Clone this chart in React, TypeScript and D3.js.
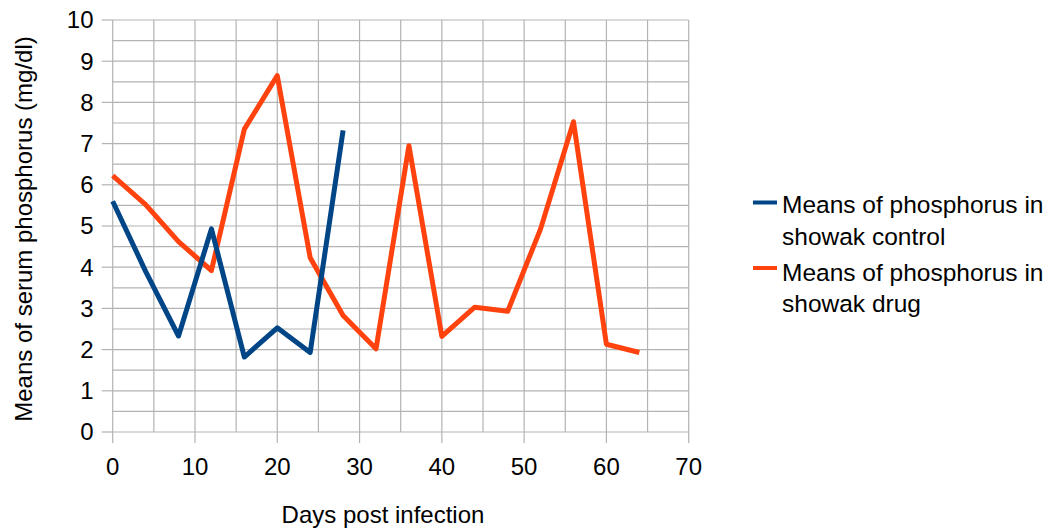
import React from "react";
import * as d3 from "d3";

const controlDays = [0, 4, 8, 12, 16, 20, 24, 28];
const controlValues = [5.6, 3.9, 2.33, 4.93, 1.82, 2.53, 1.93, 7.32];
const drugDays = [0, 4, 8, 12, 16, 20, 24, 28, 32, 36, 40, 44, 48, 52, 56, 60, 64];
const drugValues = [6.22, 5.52, 4.62, 3.92, 7.35, 8.65, 4.23, 2.83, 2.02, 6.95, 2.32, 3.03, 2.93, 4.93, 7.53, 2.13, 1.93];
const xTicks = [0, 10, 20, 30, 40, 50, 60, 70];
const yTicks = [0, 1, 2, 3, 4, 5, 6, 7, 8, 9, 10];
const seriesNames = [
  ["Means of phosphorus in", "showak control"],
  ["Means of phosphorus in", "showak drug"],
];
const colors = ["#004586", "#ff420e"];

const W = 1061;
const H = 531;
const FONT = "'Liberation Sans', Arial, sans-serif";

export default function App() {
  const x = d3.scaleLinear().domain([0, 70]).range([112.7, 688.7]);
  const y = d3.scaleLinear().domain([0, 10]).range([432, 20]);
  const line = d3
    .line<[number, number]>()
    .x((d) => x(d[0]))
    .y((d) => y(d[1]));
  const controlPts = controlDays.map((d, i) => [d, controlValues[i]] as [number, number]);
  const drugPts = drugDays.map((d, i) => [d, drugValues[i]] as [number, number]);
  const vGrid = d3.range(0, 70.001, 5);
  const hGrid = d3.range(0, 10.001, 0.5);
  const grid = "#b3b3b3";
  const legendX = 753;
  const legendItems = [
    { lineY: 202.5, base: [213, 245] },
    { lineY: 268, base: [280.5, 312] },
  ];
  return (
    <svg
      width={W}
      height={H}
      style={{ position: "absolute", left: 0, top: 0, background: "#fff" }}
      fontFamily={FONT}
    >
      <rect x={0} y={0} width={W} height={H} fill="#fff" />
      {hGrid.map((v) => (
        <line key={"h" + v} x1={x(0)} x2={x(70)} y1={y(v)} y2={y(v)} stroke={grid} strokeWidth={1.2} />
      ))}
      {vGrid.map((v) => (
        <line key={"v" + v} x1={x(v)} x2={x(v)} y1={y(0)} y2={y(10)} stroke={grid} strokeWidth={1.2} />
      ))}
      {yTicks.map((v) => (
        <g key={"yt" + v}>
          <line x1={x(0) - 11} x2={x(0)} y1={y(v)} y2={y(v)} stroke={grid} strokeWidth={1.2} />
          <text x={93.5} y={y(v)} dy="0.35em" textAnchor="end" fontSize={24} fill="#000">
            {v}
          </text>
        </g>
      ))}
      {xTicks.map((v) => (
        <g key={"xt" + v}>
          <line x1={x(v)} x2={x(v)} y1={y(0)} y2={y(0) + 11} stroke={grid} strokeWidth={1.2} />
          <text x={x(v)} y={474.5} textAnchor="middle" fontSize={24} fill="#000">
            {v}
          </text>
        </g>
      ))}
      <path d={line(drugPts) || ""} fill="none" stroke={colors[1]} strokeWidth={5} strokeLinejoin="round" />
      <path d={line(controlPts) || ""} fill="none" stroke={colors[0]} strokeWidth={5} strokeLinejoin="round" />
      <text x={383} y={523} textAnchor="middle" fontSize={24} fill="#000">
        Days post infection
      </text>
      <text
        transform={`translate(32, 229) rotate(-90)`}
        textAnchor="middle"
        fontSize={24}
        fill="#000"
      >
        Means of serum phosphorus (mg/dl)
      </text>
      {legendItems.map((it, i) => (
        <g key={"lg" + i}>
          <line x1={legendX} x2={legendX + 24} y1={it.lineY} y2={it.lineY} stroke={colors[i]} strokeWidth={4} />
          {seriesNames[i].map((t, j) => (
            <text key={j} x={782} y={it.base[j]} fontSize={24.5} fill="#000">
              {t}
            </text>
          ))}
        </g>
      ))}
    </svg>
  );
}
